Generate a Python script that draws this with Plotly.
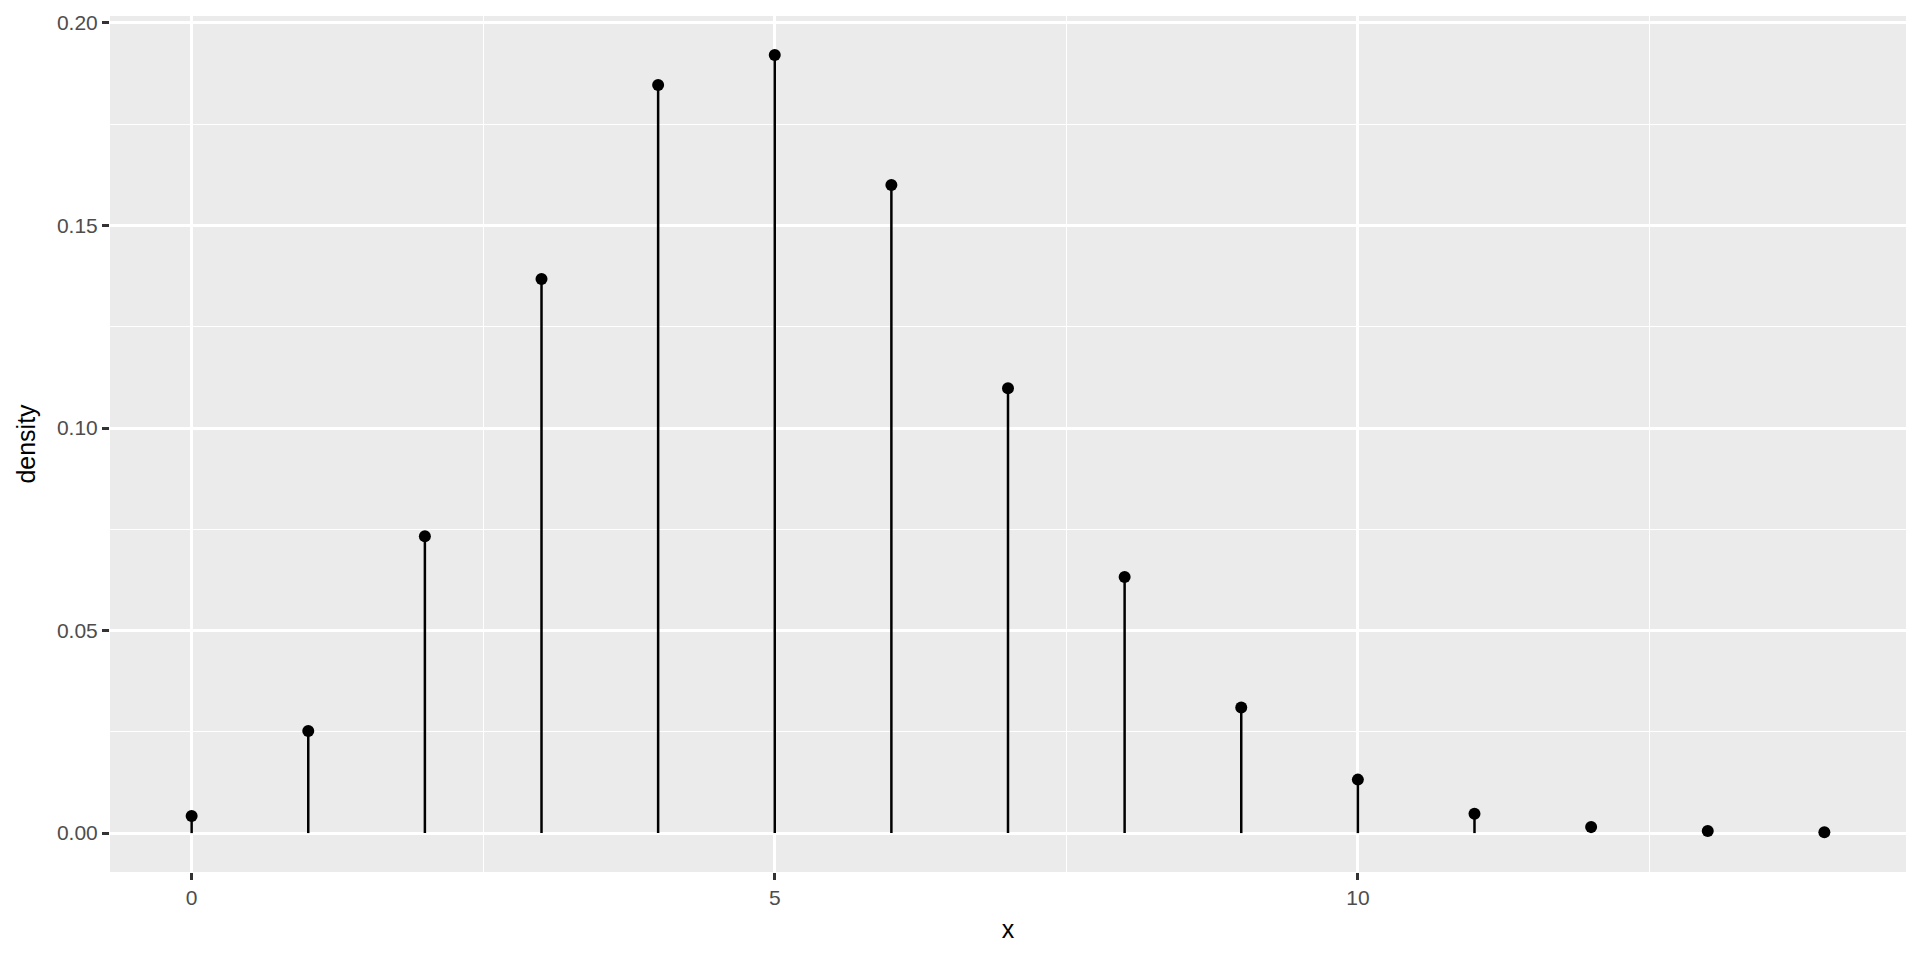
import plotly.graph_objects as go

x_vals = [0, 1, 2, 3, 4, 5, 6, 7, 8, 9, 10, 11, 12, 13, 14]
density = [0.0042, 0.0252, 0.0733, 0.1368, 0.1847, 0.1921, 0.1600, 0.1098,
           0.0632, 0.0310, 0.0132, 0.0048, 0.0015, 0.0005, 0.0002]
x_ticks = [0, 5, 10]
y_ticks = [0.00, 0.05, 0.10, 0.15, 0.20]
y_ticklabels = ["0.00", "0.05", "0.10", "0.15", "0.20"]

seg_x, seg_y = [], []
for xv, yv in zip(x_vals, density):
    seg_x += [xv, xv, None]
    seg_y += [0, yv, None]

fig = go.Figure()
fig.add_trace(go.Scatter(x=seg_x, y=seg_y, mode="lines",
                         line=dict(color="black", width=2.5), hoverinfo="skip",
                         showlegend=False))
fig.add_trace(go.Scatter(x=x_vals, y=density, mode="markers",
                         marker=dict(color="black", size=12), showlegend=False))

ymax = max(density)
fig.update_layout(
    width=1920, height=960,
    paper_bgcolor="white", plot_bgcolor="#EBEBEB",
    margin=dict(l=102, r=22, t=3, b=96),
    font=dict(family="Liberation Sans, Arial, sans-serif", color="#4D4D4D"),
)
fig.update_xaxes(
    range=[-0.7, 14.7], tickvals=x_ticks, ticktext=[str(t) for t in x_ticks],
    showgrid=True, gridcolor="white", gridwidth=2.8,
    minor=dict(tickvals=[2.5, 7.5, 12.5], showgrid=True, gridcolor="white", gridwidth=1.4, ticks=""),
    ticks="outside", ticklen=7, tickwidth=2.5, tickcolor="#333333",
    tickfont=dict(size=21, color="#4D4D4D"), ticklabeloverflow="allow",
    zeroline=False, showline=False,
    title=dict(text="x", font=dict(size=25, color="black"), standoff=12),
)
fig.update_yaxes(
    range=[-0.05 * ymax, ymax * 1.05], tickvals=y_ticks, ticktext=y_ticklabels,
    showgrid=True, gridcolor="white", gridwidth=2.8,
    minor=dict(tickvals=[0.025, 0.075, 0.125, 0.175], showgrid=True, gridcolor="white", gridwidth=1.4, ticks=""),
    ticks="outside", ticklen=7, tickwidth=2.5, tickcolor="#333333",
    tickfont=dict(size=21, color="#4D4D4D"), ticklabeloverflow="allow",
    zeroline=False, showline=False,
    title=dict(text="density", font=dict(size=25, color="black"), standoff=14),
)

fig.write_html("out.html")
